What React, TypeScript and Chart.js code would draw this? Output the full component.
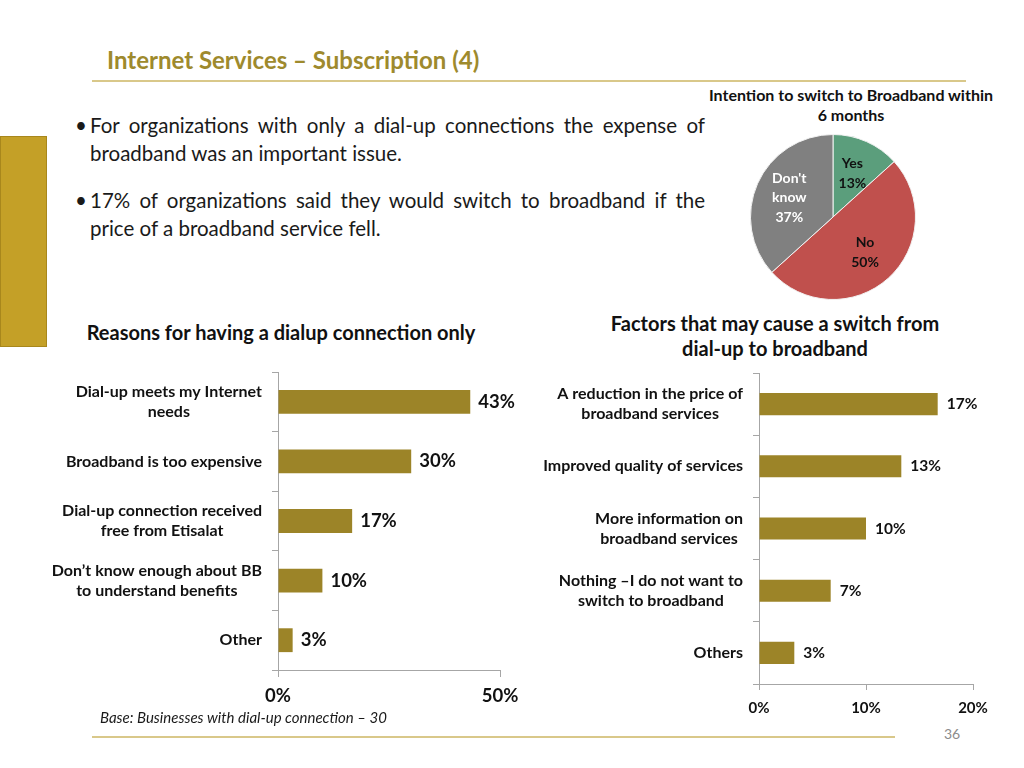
import React, { useEffect, useRef } from "react";
import { Chart, registerables } from "chart.js";

Chart.register(...registerables);

const FONT = "Lato, 'Open Sans', sans-serif";
const BAR_COLOR = "#9C8428";
const AXIS_COLOR = "#A6A6A6";
const GOLD_TEXT = "#9E8A2D";

// Left bar chart: Reasons for having a dialup connection only (base: 30)
const reasonLabels: string[][] = [
  ["Dial-up meets my Internet", "needs"],
  ["Broadband is too expensive"],
  ["Dial-up connection received", "free from Etisalat"],
  ["Don\u2019t know enough about BB", "to understand benefits"],
  ["Other"],
];
const reasonValues: number[] = [43.3, 30, 16.7, 10, 3.3];
const reasonMax = 50;
const reasonStep = 50;

// Right bar chart: Factors that may cause a switch
const factorLabels: string[][] = [
  ["A reduction in the price of", "broadband services"],
  ["Improved quality of services"],
  ["More information on", "broadband services"],
  ["Nothing \u2013I do not want to", "switch to broadband"],
  ["Others"],
];
const factorValues: number[] = [16.7, 13.3, 10, 6.7, 3.3];
const factorMax = 20;
const factorStep = 10;

// Pie: Intention to switch to Broadband within 6 months
const intentLabels: string[][] = [["Yes"], ["No"], ["Don't", "know"]];
const intentValues: number[] = [13.3, 50, 36.7];
const intentColors: string[] = ["#5B9E7C", "#C0504D", "#808080"];
const intentTextColors: string[] = ["#111111", "#111111", "#FFFFFF"];

type BarProps = {
  labels: string[][];
  values: number[];
  max: number;
  step: number;
  left: number;
  top: number;
  width: number;
  height: number;
  axisWidth: number;
  padRight: number;
  padTop: number;
  xAxisHeight: number;
  labelSize: number;
  labelLine: number;
  valueSize: number;
  tickSize: number;
  tickLen: number;
  tickPad: number;
  barPct: number;
  valueGap: number;
  labelGap: number;
};

function BarChart(p: BarProps) {
  const ref = useRef<HTMLCanvasElement>(null);
  useEffect(() => {
    if (!ref.current) return;
    const catPlugin = {
      id: "catLabels",
      afterDraw(chart: any) {
        const ctx = chart.ctx;
        const ys = chart.scales.y;
        const right = chart.chartArea.left - p.labelGap;
        ctx.save();
        ctx.font = `bold ${p.labelSize}px ${FONT}`;
        ctx.fillStyle = "#111111";
        ctx.textAlign = "center";
        ctx.textBaseline = "middle";
        p.labels.forEach((lines, i) => {
          const cy = ys.getPixelForValue(i);
          const w = Math.max(...lines.map((l) => ctx.measureText(l).width));
          const cx = right - w / 2;
          lines.forEach((l, j) => {
            ctx.fillText(l, cx, cy + (j - (lines.length - 1) / 2) * p.labelLine);
          });
        });
        ctx.restore();
      },
    };
    const valPlugin = {
      id: "valLabels",
      afterDatasetsDraw(chart: any) {
        const ctx = chart.ctx;
        const meta = chart.getDatasetMeta(0);
        ctx.save();
        ctx.font = `bold ${p.valueSize}px ${FONT}`;
        ctx.fillStyle = "#111111";
        ctx.textAlign = "left";
        ctx.textBaseline = "middle";
        meta.data.forEach((bar: any, i: number) => {
          ctx.fillText(Math.round(p.values[i]) + "%", bar.x + p.valueGap, bar.y);
        });
        ctx.restore();
      },
    };
    const chart = new Chart(ref.current, {
      type: "bar",
      data: {
        labels: p.labels.map((l) => l.join(" ")),
        datasets: [
          {
            data: p.values,
            backgroundColor: BAR_COLOR,
            borderWidth: 0,
            barPercentage: p.barPct,
            categoryPercentage: 1,
          },
        ],
      },
      options: {
        indexAxis: "y",
        responsive: false,
        maintainAspectRatio: false,
        animation: false,
        layout: { padding: { top: p.padTop, right: p.padRight, left: 0, bottom: 0 } },
        plugins: { legend: { display: false }, tooltip: { enabled: false } },
        scales: {
          y: {
            grid: {
              drawOnChartArea: false,
              drawTicks: true,
              tickLength: 6,
              color: AXIS_COLOR,
              offset: true,
            },
            border: { color: AXIS_COLOR },
            ticks: { display: false },
            afterFit: (s: any) => {
              s.width = p.axisWidth;
            },
          },
          x: {
            min: 0,
            max: p.max,
            grid: {
              drawOnChartArea: false,
              drawTicks: true,
              tickLength: p.tickLen,
              color: AXIS_COLOR,
            },
            border: { color: AXIS_COLOR },
            ticks: {
              stepSize: p.step,
              callback: (v: any) => v + "%",
              font: { family: FONT, size: p.tickSize, weight: "bold" },
              color: "#111111",
              padding: p.tickPad,
              maxRotation: 0,
            },
            afterFit: (s: any) => {
              s.height = p.xAxisHeight;
            },
          },
        },
      } as any,
      plugins: [catPlugin, valPlugin],
    });
    return () => chart.destroy();
  }, []);
  return (
    <canvas
      ref={ref}
      width={p.width}
      height={p.height}
      style={{ position: "absolute", left: p.left, top: p.top, width: p.width, height: p.height }}
    />
  );
}

function PieChart() {
  const ref = useRef<HTMLCanvasElement>(null);
  useEffect(() => {
    if (!ref.current) return;
    const labelPlugin = {
      id: "pieLabels",
      afterDatasetsDraw(chart: any) {
        const ctx = chart.ctx;
        const meta = chart.getDatasetMeta(0);
        ctx.save();
        ctx.font = `bold 14px ${FONT}`;
        ctx.textAlign = "center";
        ctx.textBaseline = "middle";
        meta.data.forEach((arc: any, i: number) => {
          const mid = (arc.startAngle + arc.endAngle) / 2;
          const r = arc.outerRadius * 0.58;
          const x = arc.x + Math.cos(mid) * r;
          const y = arc.y + Math.sin(mid) * r;
          const lines = [...intentLabels[i], Math.round(intentValues[i]) + "%"];
          ctx.fillStyle = intentTextColors[i];
          lines.forEach((l, j) => {
            ctx.fillText(l, x, y + (j - (lines.length - 1) / 2) * 19.5);
          });
        });
        ctx.restore();
      },
    };
    const chart = new Chart(ref.current, {
      type: "pie",
      data: {
        labels: intentLabels.map((l) => l.join(" ")),
        datasets: [
          {
            data: intentValues,
            backgroundColor: intentColors,
            borderColor: "#F2F2F2",
            borderWidth: 1,
          },
        ],
      },
      options: {
        responsive: false,
        maintainAspectRatio: false,
        animation: false,
        layout: { padding: 10 },
        plugins: { legend: { display: false }, tooltip: { enabled: false } },
      } as any,
      plugins: [labelPlugin],
    });
    return () => chart.destroy();
  }, []);
  return (
    <canvas
      ref={ref}
      width={186}
      height={186}
      style={{ position: "absolute", left: 740, top: 124, width: 186, height: 186 }}
    />
  );
}

const abs = (left: number, top: number, extra: React.CSSProperties = {}): React.CSSProperties => ({
  position: "absolute",
  left,
  top,
  margin: 0,
  whiteSpace: "nowrap",
  ...extra,
});

export default function App() {
  const bulletText: React.CSSProperties = {
    fontFamily: FONT,
    fontSize: 20.5,
    lineHeight: "28px",
    color: "#1a1a1a",
  };
  return (
    <div
      style={{
        position: "absolute",
        left: 0,
        top: 0,
        width: 1024,
        height: 768,
        overflow: "hidden",
        background: "#FFFFFF",
        fontFamily: FONT,
      }}
    >
      {/* Title */}
      <div
        style={abs(107, 44, {
          fontSize: 24,
          lineHeight: "32px",
          fontWeight: 700,
          color: GOLD_TEXT,
        })}
      >
        Internet Services – Subscription (4)
      </div>
      <div style={abs(92, 80, { width: 874, height: 2, background: "#D9C88A" })} />

      {/* Left gold block */}
      <div
        style={abs(0, 136, {
          width: 45,
          height: 209,
          background: "#C4A027",
          border: "1px solid #A8871C",
        })}
      />

      {/* Bullets */}
      <div style={abs(75, 111, { ...bulletText })}>•</div>
      <div style={abs(90, 111, { ...bulletText, width: 615, textAlign: "justify", textAlignLast: "justify" })}>
        For organizations with only a dial-up connections the expense of
      </div>
      <div style={abs(90, 139, { ...bulletText })}>broadband was an important issue.</div>

      <div style={abs(75, 186, { ...bulletText })}>•</div>
      <div style={abs(90, 186, { ...bulletText, width: 615, textAlign: "justify", textAlignLast: "justify" })}>
        17% of organizations said they would switch to broadband if the
      </div>
      <div style={abs(90, 214, { ...bulletText })}>price of a broadband service fell.</div>

      {/* Pie title */}
      <div
        style={abs(701, 85, {
          width: 300,
          textAlign: "center",
          fontSize: 16,
          lineHeight: "20px",
          fontWeight: 700,
          color: "#111111",
        })}
      >
        Intention to switch to Broadband within
        <br />6 months
      </div>
      <PieChart />

      {/* Chart titles */}
      <div
        style={abs(81, 319, {
          width: 400,
          textAlign: "center",
          fontSize: 20,
          lineHeight: "26px",
          fontWeight: 700,
          color: "#111111",
        })}
      >
        Reasons for having a dialup connection only
      </div>
      <div
        style={abs(575, 311, {
          width: 400,
          textAlign: "center",
          fontSize: 20,
          lineHeight: "25px",
          fontWeight: 700,
          color: "#111111",
        })}
      >
        Factors that may cause a switch from
        <br />
        dial-up to broadband
      </div>

      <BarChart
        labels={reasonLabels}
        values={reasonValues}
        max={reasonMax}
        step={reasonStep}
        left={40}
        top={362}
        width={490}
        height={350}
        axisWidth={238}
        padRight={30}
        padTop={10}
        xAxisHeight={42}
        labelSize={16}
        labelLine={20.5}
        valueSize={18.5}
        tickSize={18.5}
        tickLen={7}
        tickPad={8}
        barPct={0.4}
        valueGap={8}
        labelGap={16}
      />
      <BarChart
        labels={factorLabels}
        values={factorValues}
        max={factorMax}
        step={factorStep}
        left={530}
        top={363}
        width={490}
        height={360}
        axisWidth={229}
        padRight={47}
        padTop={10}
        xAxisHeight={39}
        labelSize={16}
        labelLine={20}
        valueSize={15.5}
        tickSize={15}
        tickLen={6}
        tickPad={9}
        barPct={0.355}
        valueGap={9}
        labelGap={16}
      />

      {/* Footer */}
      <div
        style={abs(100, 708, {
          fontSize: 15,
          lineHeight: "18px",
          fontStyle: "italic",
          color: "#1a1a1a",
        })}
      >
        Base: Businesses with dial-up connection – 30
      </div>
      <div style={abs(92, 736, { width: 803, height: 2, background: "#D9C88A" })} />
      <div style={abs(944, 725, { fontSize: 14, lineHeight: "18px", color: "#8C8C8C" })}>36</div>
    </div>
  );
}
